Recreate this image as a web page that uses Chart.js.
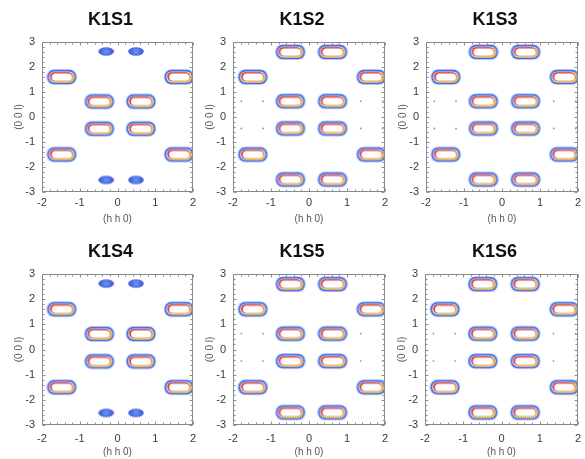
<!DOCTYPE html>
<html>
<head>
<meta charset="utf-8">
<script src="https://cdn.jsdelivr.net/npm/chart.js@4"></script>
<style>
  html, body { margin: 0; padding: 0; background: #fff; overflow: hidden; }
  #wrap { position: relative; width: 585px; height: 459px; overflow: hidden; }
  #wrap canvas { position: absolute; }
</style>
</head>
<body>
<div id="wrap"></div>
<script>
// ---- data -------------------------------------------------------------
const panelNames = ['K1S1', 'K1S2', 'K1S3', 'K1S4', 'K1S5', 'K1S6'];
const panelPattern = ['A', 'B', 'B', 'A', 'B', 'B'];

// tick labels of the (h h 0) and (0 0 l) axes
const hMajorTicks = [-2, -1, 0, 1, 2];
const lMajorTicks = [-3, -2, -1, 0, 1, 2, 3];

// pattern A: eight strong peaks plus four weak spots at l = +-2.5
const ringA_h = [-1.48, 1.63, -0.48, 0.62, -0.48, 0.62, -1.48, 1.63];
const ringA_l = [1.6, 1.6, 0.62, 0.62, -0.47, -0.47, -1.5, -1.5];
const spotA_h = [-0.3, 0.49, -0.3, 0.49];
const spotA_l = [2.62, 2.62, -2.52, -2.52];

// pattern B: twelve strong peaks plus faint points on the 0.6 / -0.5 rows
const ringB_h = [-0.49, 0.62, -1.48, 1.64, -0.49, 0.62, -0.49, 0.62, -1.48, 1.64, -0.49, 0.62];
const ringB_l = [2.6, 2.6, 1.6, 1.6, 0.63, 0.63, -0.46, -0.46, -1.5, -1.5, -2.5, -2.5];
const dotB_h = [-1.78, -1.21, 1.36, 1.94, -1.78, -1.21, 1.36, 1.94];
const dotB_l = [0.63, 0.63, 0.63, 0.63, -0.46, -0.46, -0.46, -0.46];

// ---- layout (plot-area rectangles on the page) ------------------------
const plotRects = [
  { left: 42,  top: 42,  w: 151, h: 150, tickPad: 4 },
  { left: 233, top: 42,  w: 152, h: 150, tickPad: 4 },
  { left: 426, top: 42,  w: 152, h: 150, tickPad: 4 },
  { left: 42,  top: 274, w: 151, h: 151, tickPad: 7 },
  { left: 233, top: 274, w: 152, h: 151, tickPad: 7 },
  { left: 425, top: 274, w: 153, h: 151, tickPad: 7 }
];
const Y_AXIS_W = 42, RIGHT_W = 28, TITLE_H = 42, X_AXIS_H = 34;
const FONT = "'Liberation Sans', Arial, Helvetica, sans-serif";

// ---- point sprites ----------------------------------------------------
function pill(g, cx, cy, w, h) {
  g.beginPath();
  g.roundRect(cx - w / 2, cy - h / 2, w, h, h * 0.48);
}

function makeRingSprite() {
  const c = document.createElement('canvas');
  c.width = 34; c.height = 20;
  const g = c.getContext('2d');
  const cx = 17, cy = 10;
  pill(g, cx, cy, 31, 16); g.fillStyle = 'rgba(130,160,240,0.35)'; g.fill();
  pill(g, cx, cy, 29, 14.4); g.fillStyle = '#4a6ee2'; g.fill();
  pill(g, cx, cy, 25.6, 11); g.fillStyle = '#dcdaf0'; g.fill();
  pill(g, cx + 0.8, cy + 0.6, 23.2, 9.6); g.fillStyle = '#f2c048'; g.fill();
  pill(g, cx - 0.6, cy - 0.4, 22.2, 8.8); g.fillStyle = '#e23a32'; g.fill();
  pill(g, cx + 0.1, cy + 0.1, 20, 7.4); g.fillStyle = '#ffffff'; g.fill();
  return c;
}

function makeSpotSprite() {
  const c = document.createElement('canvas');
  c.width = 18; c.height = 11;
  const g = c.getContext('2d');
  const grad = g.createRadialGradient(9, 5.5, 0, 9, 5.5, 8);
  grad.addColorStop(0, '#7391f0');
  grad.addColorStop(0.7, '#4166de');
  grad.addColorStop(1, '#3a5ed8');
  g.beginPath();
  g.ellipse(9, 5.5, 7.8, 4.2, 0, 0, Math.PI * 2);
  g.fillStyle = grad;
  g.fill();
  return c;
}

const ringSprite = makeRingSprite();
const spotSprite = makeSpotSprite();

// ---- frame with inward minor/major ticks ------------------------------
const frameTicks = {
  id: 'frameTicks',
  afterDatasetsDraw(chart) {
    const { ctx, chartArea: a, scales: { x, y } } = chart;
    const L = Math.round(a.left) + 0.5, R = Math.round(a.right) - 0.5;
    const T = Math.round(a.top) + 0.5, B = Math.round(a.bottom) - 0.5;
    ctx.save();
    ctx.strokeStyle = '#8e8e8e';
    ctx.lineWidth = 1;
    ctx.beginPath();
    x.ticks.forEach(t => {
      const px = Math.round(x.getPixelForValue(t.value)) + 0.5;
      const len = t.label ? 3 : 2;
      ctx.moveTo(px, B); ctx.lineTo(px, B - len);
      ctx.moveTo(px, T); ctx.lineTo(px, T + len);
    });
    y.ticks.forEach(t => {
      const py = Math.round(y.getPixelForValue(t.value)) + 0.5;
      const len = t.label ? 3 : 2;
      ctx.moveTo(L, py); ctx.lineTo(L + len, py);
      ctx.moveTo(R, py); ctx.lineTo(R - len, py);
    });
    ctx.stroke();
    ctx.strokeStyle = '#8a8a8a';
    ctx.strokeRect(L, T, R - L, B - T);
    ctx.restore();
  }
};

function majorLabel(list) {
  return v => {
    const r = Math.round(v);
    return (Math.abs(v - r) < 1e-6 && list.includes(r)) ? String(r === 0 ? 0 : r) : '';
  };
}

function toPoints(hs, ls) {
  return hs.map((h, i) => ({ x: h, y: ls[i] }));
}

// ---- build the six panels ---------------------------------------------
const wrap = document.getElementById('wrap');

panelNames.forEach((name, i) => {
  const r = plotRects[i];
  const cv = document.createElement('canvas');
  const W = Y_AXIS_W + r.w + RIGHT_W;
  const H = TITLE_H + r.h + X_AXIS_H;
  cv.width = W; cv.height = H;
  cv.style.left = (r.left - Y_AXIS_W) + 'px';
  cv.style.top = (r.top - TITLE_H) + 'px';
  cv.style.width = W + 'px';
  cv.style.height = H + 'px';
  wrap.appendChild(cv);

  const datasets = [];
  if (panelPattern[i] === 'A') {
    datasets.push({ data: toPoints(ringA_h, ringA_l), pointStyle: ringSprite, pointRadius: 8 });
    datasets.push({ data: toPoints(spotA_h, spotA_l), pointStyle: spotSprite, pointRadius: 6 });
  } else {
    datasets.push({ data: toPoints(ringB_h, ringB_l), pointStyle: ringSprite, pointRadius: 8 });
    datasets.push({ data: toPoints(dotB_h, dotB_l), pointStyle: 'circle', pointRadius: 0.9,
                    backgroundColor: '#7b95ea', borderWidth: 0 });
  }

  new Chart(cv, {
    type: 'scatter',
    data: { datasets },
    options: {
      responsive: false,
      animation: false,
      events: [],
      layout: { padding: 0 },
      plugins: {
        legend: { display: false },
        tooltip: { enabled: false },
        title: {
          display: true,
          text: name,
          color: '#111',
          font: { family: FONT, size: 18, weight: 'bold', lineHeight: 1.2 },
          padding: { top: 9.2, bottom: 11.2 }
        }
      },
      scales: {
        x: {
          type: 'linear', min: -2, max: 2,
          grid: { display: false, drawTicks: false }, border: { display: false },
          ticks: {
            stepSize: 0.2, autoSkip: false, maxRotation: 0, minRotation: 0,
            padding: r.tickPad, color: '#3a3a3a',
            font: { family: FONT, size: 11, lineHeight: 1.2 },
            callback: majorLabel(hMajorTicks)
          },
          title: {
            display: true, text: '(h h 0)', color: '#555',
            font: { family: FONT, size: 10, lineHeight: 1.2 },
            padding: { top: 0, bottom: 1 }
          },
          afterFit: s => { s.height = X_AXIS_H; }
        },
        y: {
          type: 'linear', min: -3, max: 3,
          grid: { display: false, drawTicks: false }, border: { display: false },
          ticks: {
            stepSize: 0.2, autoSkip: false, padding: 7, color: '#3a3a3a',
            font: { family: FONT, size: 11, lineHeight: 1.2 },
            callback: majorLabel(lMajorTicks)
          },
          title: {
            display: true, text: '(0 0 l)', color: '#555',
            font: { family: FONT, size: 10, lineHeight: 1.2 },
            padding: { top: 13, bottom: 0 }
          },
          afterFit: s => { s.width = Y_AXIS_W; }
        },
        yRight: {
          type: 'linear', position: 'right', min: -3, max: 3,
          grid: { display: false, drawTicks: false }, border: { display: false },
          ticks: { display: false },
          afterFit: s => { s.width = RIGHT_W; }
        }
      }
    },
    plugins: [frameTicks]
  });
});
</script>
</body>
</html>
